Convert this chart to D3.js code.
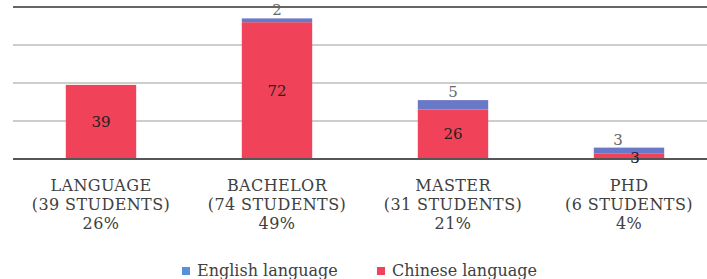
<!DOCTYPE html>
<html>
<head>
<meta charset="utf-8">
<script src="https://cdn.jsdelivr.net/npm/d3@7"></script>
<style>
  body { margin: 0; background: #fff; }
  svg { display: block; font-family: "DejaVu Serif", Georgia, serif; }
</style>
</head>
<body>
<svg id="chart"></svg>
<script>
const categories = ["LANGUAGE", "BACHELOR", "MASTER", "PHD"]
const studentLabels = ["(39 STUDENTS)", "(74 STUDENTS)", "(31 STUDENTS)", "(6 STUDENTS)"]
const shareLabels = ["26%", "49%", "21%", "4%"]
const chinese = [39, 72, 26, 3]
const english = [0, 2, 5, 3]
const yTicks = [0, 20, 40, 60, 80]

const WIDTH = 707, HEIGHT = 279
const RED = "#f04259", BLUE = "#6a78c8"

const svg = d3.select("#chart").attr("width", WIDTH).attr("height", HEIGHT)

const x = d3.scaleBand().domain(categories).range([13, 717])
const barW = x.bandwidth() * 0.4
const y = d3.scaleLinear().domain([0, 80]).range([159, 7])

// gridlines
svg.append("g").selectAll("line")
  .data(yTicks)
  .join("line")
    .attr("x1", 13).attr("x2", WIDTH)
    .attr("y1", d => y(d)).attr("y2", d => y(d))
    .attr("stroke", d => (d === 0 || d === 80) ? "#666" : "#bdbdbd")
    .attr("stroke-width", d => (d === 0 || d === 80) ? 2 : 1.6)

const rows = categories.map((c, i) => ({cat: c, cn: chinese[i], en: english[i], i: i}))
const cx = d => x(d.cat) + x.bandwidth() / 2

// chinese (bottom) segments
svg.append("g").selectAll("rect")
  .data(rows)
  .join("rect")
    .attr("x", d => cx(d) - barW / 2)
    .attr("width", barW)
    .attr("y", d => y(d.cn))
    .attr("height", d => y(0) - y(d.cn))
    .attr("fill", RED)

// english (top) segments
svg.append("g").selectAll("rect")
  .data(rows.filter(d => d.en > 0))
  .join("rect")
    .attr("x", d => cx(d) - barW / 2)
    .attr("width", barW)
    .attr("y", d => y(d.cn + d.en))
    .attr("height", d => y(d.cn) - y(d.cn + d.en))
    .attr("fill", BLUE)

// baseline redrawn on top of bars
svg.append("line")
  .attr("x1", 13).attr("x2", WIDTH)
  .attr("y1", y(0)).attr("y2", y(0))
  .attr("stroke", "#555").attr("stroke-width", 2)

// value labels
svg.append("g").selectAll("text")
  .data(rows)
  .join("text")
    .attr("x", d => cx(d) + (d.cat === "PHD" ? 6 : 0))
    .attr("y", d => d.cat === "PHD" ? y(0) + 4 : (y(0) + y(d.cn)) / 2 + 5)
    .attr("text-anchor", "middle")
    .attr("font-size", 15)
    .attr("fill", "#222")
    .text(d => d.cn)

svg.append("g").selectAll("text")
  .data(rows.filter(d => d.en > 0))
  .join("text")
    .attr("x", d => cx(d) + (d.cat === "PHD" ? -11 : 0))
    .attr("y", d => y(d.cn + d.en) - 3)
    .attr("text-anchor", "middle")
    .attr("font-size", 15)
    .attr("fill", "#666")
    .text(d => d.en)

// category labels
const lab = svg.append("g").selectAll("text")
  .data(rows)
  .join("text")
    .attr("text-anchor", "middle")
    .attr("font-size", 16)
    .attr("letter-spacing", 0.4)
    .attr("fill", "#404040")
lab.append("tspan").attr("x", cx).attr("y", 191).text(d => d.cat)
lab.append("tspan").attr("x", cx).attr("y", 210).text(d => studentLabels[d.i])
lab.append("tspan").attr("x", cx).attr("y", 229).text(d => shareLabels[d.i])

// legend
const legendItems = [
  {name: "English language", color: "#5b8fdb", x: 182},
  {name: "Chinese language", color: RED, x: 377}
]
const lg = svg.append("g").selectAll("g")
  .data(legendItems)
  .join("g")
    .attr("transform", d => `translate(${d.x},267)`)
lg.append("rect").attr("width", 8).attr("height", 8).attr("fill", d => d.color)
lg.append("text")
  .attr("x", 15).attr("y", 9)
  .attr("font-size", 16)
  .attr("fill", "#404040")
  .text(d => d.name)
</script>
</body>
</html>
